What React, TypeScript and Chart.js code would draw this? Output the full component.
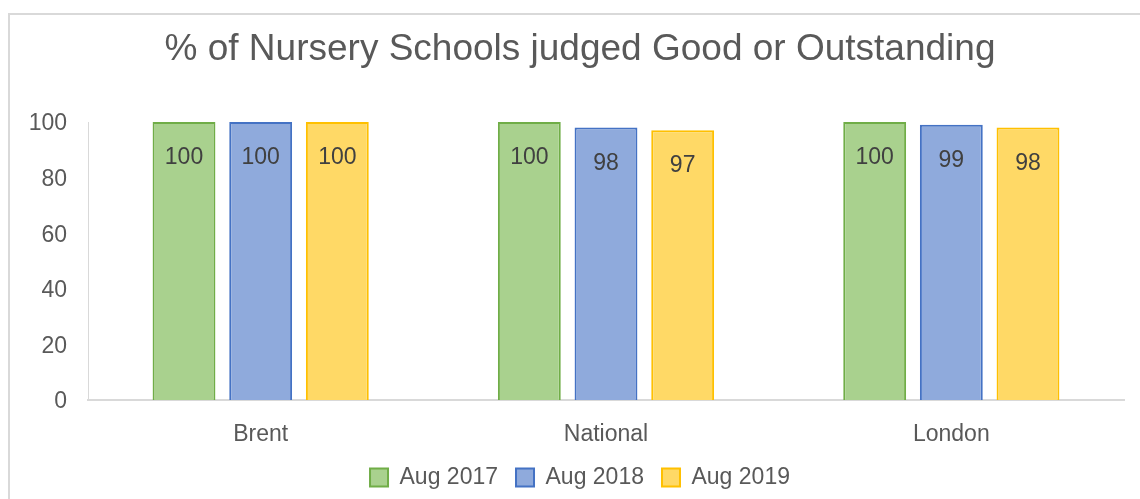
import React, { useEffect, useRef } from "react";
import { Chart, registerables } from "chart.js";

Chart.register(...registerables);

const categories = ["Brent", "National", "London"];
const seriesNames = ["Aug 2017", "Aug 2018", "Aug 2019"];
const aug2017 = [100, 100, 100];
const aug2018 = [100, 98, 99];
const aug2019 = [100, 97, 98];
const yTicks = [0, 20, 40, 60, 80, 100];
const titleText = "% of Nursery Schools judged Good or Outstanding";

const fills = ["#A9D18E", "#8FAADC", "#FFD966"];
const borders = ["#70AD47", "#4472C4", "#FFC000"];
const FONT = "'Liberation Sans', Arial, sans-serif";

const frame = {
  id: "frame",
  beforeDraw(chart: any) {
    const ctx = chart.ctx;
    ctx.save();
    ctx.fillStyle = "#FFFFFF";
    ctx.fillRect(0, 0, chart.width, chart.height);
    ctx.strokeStyle = "#D9D9D9";
    ctx.lineWidth = 2;
    ctx.strokeRect(9, 14, chart.width + 20, chart.height + 20);
    ctx.restore();
  },
};

const dataLabels = {
  id: "dataLabels",
  afterDatasetsDraw(chart: any) {
    const ctx = chart.ctx;
    ctx.save();
    ctx.font = `23px ${FONT}`;
    ctx.fillStyle = "#404040";
    ctx.textAlign = "center";
    ctx.textBaseline = "alphabetic";
    chart.data.datasets.forEach((ds: any, i: number) => {
      const meta = chart.getDatasetMeta(i);
      meta.data.forEach((el: any, j: number) => {
        ctx.fillText(String(ds.data[j]), el.x, el.y + 42);
      });
    });
    ctx.restore();
  },
};

export default function App() {
  const ref = useRef<HTMLCanvasElement | null>(null);
  useEffect(() => {
    if (!ref.current) return;
    const series = [aug2017, aug2018, aug2019];
    const chart = new Chart(ref.current, {
      type: "bar",
      data: {
        labels: categories,
        datasets: series.map((d, i) => ({
          label: seriesNames[i],
          data: d,
          backgroundColor: fills[i],
          borderColor: borders[i],
          borderWidth: 2,
          borderSkipped: "bottom",
          categoryPercentage: 0.666,
          barPercentage: 0.82,
        })),
      },
      options: {
        responsive: false,
        animation: false,
        layout: { padding: { left: 20, right: 0, top: 0, bottom: 0 } },
        scales: {
          x: {
            grid: { display: false, drawTicks: false },
            border: { display: true, color: "#D9D9D9", width: 2 },
            ticks: {
              color: "#595959",
              font: { family: FONT, size: 23 },
              padding: 21,
            },
            afterFit(scale: any) {
              scale.height = 48;
            },
          },
          y: {
            min: 0,
            max: 100,
            afterBuildTicks(scale: any) {
              scale.ticks = yTicks.map((v) => ({ value: v }));
            },
            grid: { display: false, drawTicks: false },
            border: { display: true, color: "#D9D9D9", width: 1 },
            ticks: {
              color: "#595959",
              font: { family: FONT, size: 23 },
              padding: 21,
              labelOffset: 2,
            },
            afterFit(scale: any) {
              scale.width = 68;
            },
          },
          yRightSpacer: {
            type: "linear",
            position: "right",
            min: 0,
            max: 100,
            grid: { display: false, drawTicks: false },
            border: { display: false },
            ticks: { display: false },
            afterFit(scale: any) {
              scale.width = 16;
            },
          },
        },
        plugins: {
          title: {
            display: true,
            text: titleText,
            color: "#595959",
            font: { family: FONT, size: 37, weight: "normal" },
            padding: { top: 28, bottom: 49.6 },
          },
          legend: {
            position: "bottom",
            labels: {
              color: "#595959",
              font: { family: FONT, size: 23 },
              boxWidth: 18,
              boxHeight: 18,
              padding: 18,
            },
          },
          tooltip: { enabled: false },
        },
      },
      plugins: [frame, dataLabels],
    } as any);
    return () => chart.destroy();
  }, []);
  return (
    <div style={{ position: "absolute", left: 0, top: 0, width: 1140, height: 499, overflow: "hidden" }}>
      <canvas ref={ref} width={1140} height={499} style={{ display: "block" }} />
    </div>
  );
}
